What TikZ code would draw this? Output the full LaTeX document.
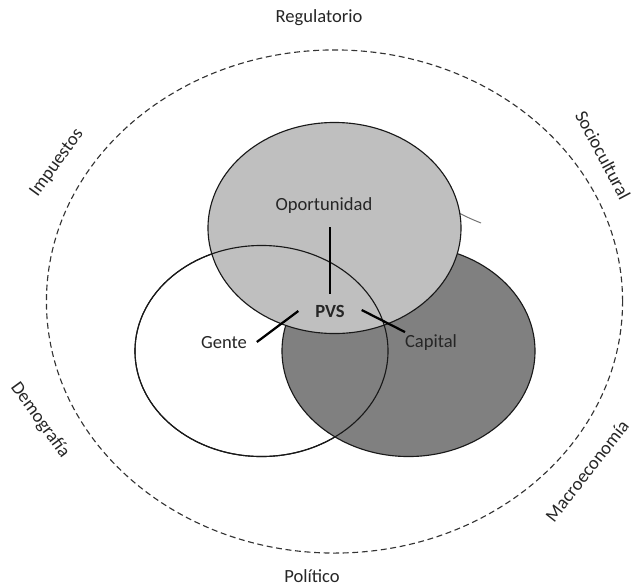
\documentclass[tikz,border=0pt]{standalone}
\usepackage{fontspec}
\setmainfont{Carlito}
\usetikzlibrary{positioning,calc}

\definecolor{oppgray}{gray}{0.75}
\definecolor{capgray}{gray}{0.5}

\begin{document}
\begin{tikzpicture}[
    x=0.025cm, y=-0.025cm,
    every node/.style={font=\fontsize{13.2}{16}\selectfont, text=black!85},
    set/.style={draw=black!90, line width=0.8pt},
    env/.style={draw=black!80, line width=0.8pt, dash pattern=on 4.2pt off 2.6pt},
    link/.style={line width=1.6pt},
    stray/.style={draw=black!55, line width=0.7pt}
]
\useasboundingbox (0,0) rectangle (632,586);

% Sets
\draw[set, fill=white] (261.5,351) ellipse [x radius=3.1625cm, y radius=2.6375cm];
\draw[set, fill=capgray] (408.5,351) ellipse [x radius=3.1625cm, y radius=2.6375cm];
\draw[stray] (450,208) to[bend right=4] (481,223);
\draw[set, fill=oppgray] (334.5,228) ellipse [x radius=3.1625cm, y radius=2.6375cm];
\draw[set] (261.5,351) ellipse [x radius=3.1625cm, y radius=2.6375cm];

% Environment
\draw[env] (334.5,301.5) ellipse [x radius=7.2cm, y radius=6.2875cm];

% Labels
\node (opor) at (324,206) {Oportunidad};
\node[font=\fontsize{13.2}{16}\selectfont\bfseries] (pvs) at (330,311) {PVS};
\node (gente) at (224,343) {Gente};
\node (capital) at (431,343) {Capital};

% Lines
\draw[link] ($(pvs.north)+(0,-6)$) -- ($(pvs.north |- opor.south)+(0,8)$);
\draw[link] ($(gente.east)+(5,-1)$) -- ($(pvs.west)+(-12,0)$);
\draw[link] ($(pvs.east)+(12,-1)$) -- ($(capital.north west)+(5,2)$);

% Factors
\node (reg) at (319,18) {Regulatorio};
\node (pol) at (312,576) {Político};
\node[rotate=54] (imp) at (57,163) {Impuestos};
\node[rotate=-62] (soc) at (603,155) {Sociocultural};
\node[rotate=-54] (dem) at (40,420) {Demografía};
\node[rotate=52] (mac) at (587,471) {Macroeconomía};
\end{tikzpicture}
\end{document}
